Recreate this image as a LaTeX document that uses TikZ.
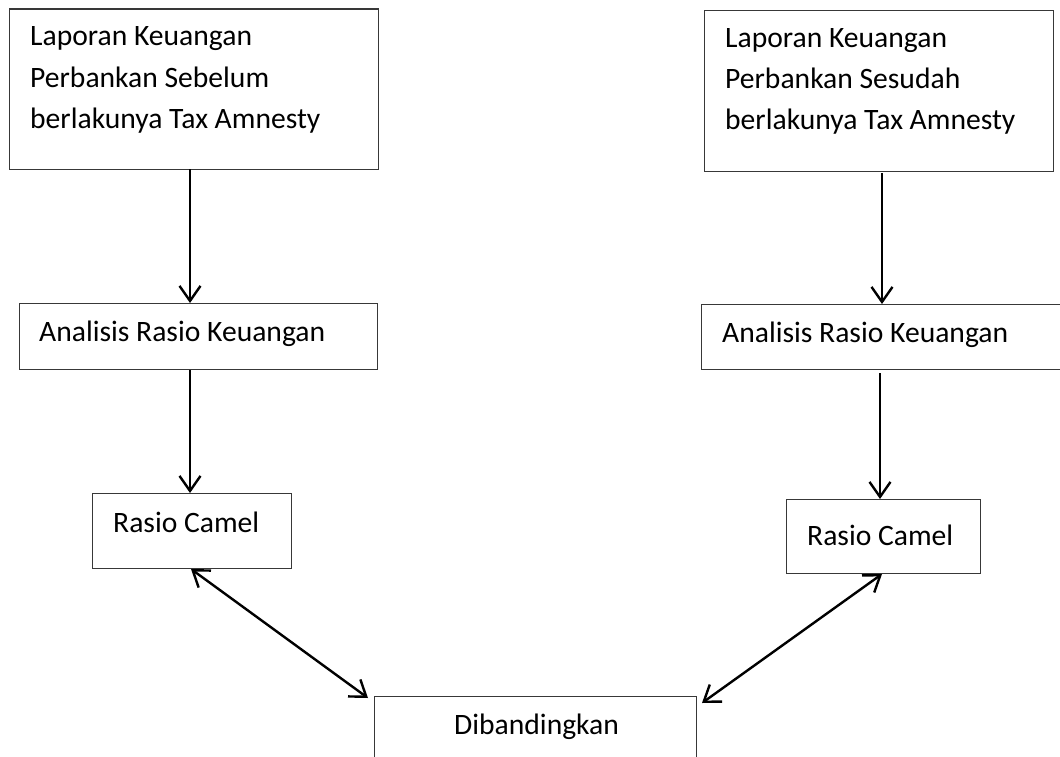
\documentclass[tikz,border=0pt]{standalone}
\usepackage{fontspec}
\setmainfont{Carlito}
\usetikzlibrary{arrows.meta}
\begin{document}
\begin{tikzpicture}[x=1pt,y=-1pt,
  boxst/.style={draw=black!78,line width=1.4pt,rectangle,inner sep=0pt,anchor=north west},
  txt/.style={inner sep=0pt,anchor=base west,font=\fontsize{29.6}{41.3}\selectfont,align=left},
  arr/.style={line width=2.4pt,-{Straight Barb[length=15pt,width=21pt]}},
  darr/.style={line width=2.4pt,{Straight Barb[length=15pt,width=21pt]}-{Straight Barb[length=15pt,width=21pt]}}]
\useasboundingbox (0,0) rectangle (1060,757);
\clip (0,0) rectangle (1060,757);
% boxes
\node[boxst,minimum width=369pt,minimum height=160pt] (b1) at (9,8.5) {};
\node[boxst,minimum width=349pt,minimum height=161pt] (b2) at (704,10) {};
\node[boxst,minimum width=358pt,minimum height=66pt] (a1) at (19,303) {};
\node[boxst,minimum width=365pt,minimum height=65pt] (a2) at (701,304) {};
\node[boxst,minimum width=199pt,minimum height=75pt] (c1) at (92,493) {};
\node[boxst,minimum width=194pt,minimum height=74pt] (c2) at (786,499) {};
\node[boxst,minimum width=322pt,minimum height=90pt] (d) at (374,696) {};
% texts (base anchor = baseline of the last line)
\node[txt] (t1) at (30,128.5) {Laporan Keuangan\\Perbankan Sebelum\\berlakunya Tax Amnesty};
\node[txt] (t2) at (725,130) {Laporan Keuangan\\Perbankan Sesudah\\berlakunya Tax Amnesty};
\node[txt] (ta1) at (39,341) {Analisis Rasio Keuangan};
\node[txt] (ta2) at (722,342) {Analisis Rasio Keuangan};
\node[txt] (tc1) at (113,532) {Rasio Camel};
\node[txt] (tc2) at (807,545) {Rasio Camel};
\node[txt] (td) at (454,734) {Dibandingkan};
% connector endpoints
\coordinate (p1) at (190,169);
\coordinate (p2) at (190,370);
\coordinate (q1) at (882,173);
\coordinate (q2) at (880,373);
\coordinate (l1) at (191,569);
\coordinate (l2) at (368,698);
\coordinate (r1) at (882,574);
\coordinate (r2) at (702,703);
% connectors
\draw[arr] (p1) -- (p1 |- a1.north);
\draw[arr] (p2) -- (p2 |- c1.north);
\draw[arr] (q1) -- (q1 |- a2.north);
\draw[arr] (q2) -- (q2 |- c2.north);
\draw[darr] (l1) -- (l2);
\draw[darr] (r1) -- (r2);
\end{tikzpicture}
\end{document}
